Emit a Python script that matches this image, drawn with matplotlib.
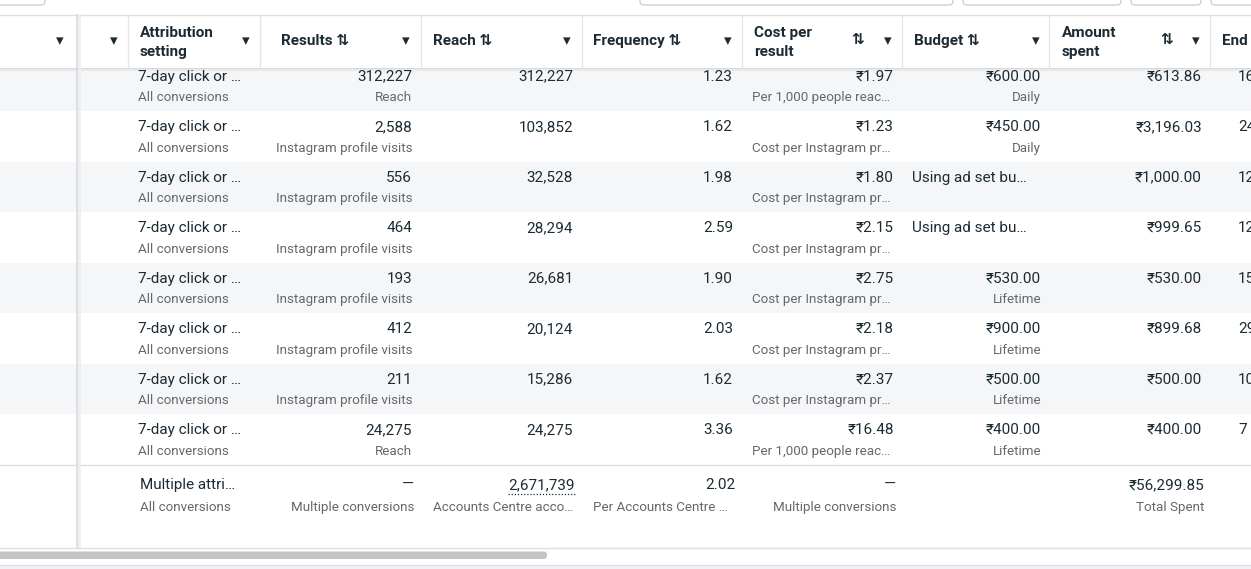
import matplotlib.pyplot as plt
from matplotlib.patches import Rectangle, FancyBboxPatch

plt.rcParams['font.family'] = ['Roboto', 'DejaVu Sans']

# table content
attribution = ["7-day click or …"] * 8
attribution_sub = ["All conversions"] * 8
results = ["312,227", "2,588", "556", "464", "193", "412", "211", "24,275"]
result_types = ["Reach", "Instagram profile visits", "Instagram profile visits",
                "Instagram profile visits", "Instagram profile visits",
                "Instagram profile visits", "Instagram profile visits", "Reach"]
reach = ["312,227", "103,852", "32,528", "28,294", "26,681", "20,124", "15,286", "24,275"]
frequency = ["1.23", "1.62", "1.98", "2.59", "1.90", "2.03", "1.62", "3.36"]
cost_per_result = ["₹1.97", "₹1.23", "₹1.80", "₹2.15", "₹2.75", "₹2.18", "₹2.37", "₹16.48"]
cost_sub = ["Per 1,000 people reac…", "Cost per Instagram pr…", "Cost per Instagram pr…",
            "Cost per Instagram pr…", "Cost per Instagram pr…", "Cost per Instagram pr…",
            "Cost per Instagram pr…", "Per 1,000 people reac…"]
budget = ["₹600.00", "₹450.00", "Using ad set bu…", "Using ad set bu…",
          "₹530.00", "₹900.00", "₹500.00", "₹400.00"]
budget_type = ["Daily", "Daily", "", "", "Lifetime", "Lifetime", "Lifetime", "Lifetime"]
amount_spent = ["₹613.86", "₹3,196.03", "₹1,000.00", "₹999.65",
                "₹530.00", "₹899.68", "₹500.00", "₹400.00"]
ends = ["16", "24", "12", "12", "15", "29", "10", "7"]

total_reach = "2,671,739"
total_frequency = "2.02"
total_spent = "₹56,299.85"

DARK = "#1c2b33"
GREY = "#65676b"
LINE = "#dddfe2"
STRIPE = "#f5f6f7"

fig = plt.figure(figsize=(12.51, 5.69), dpi=100)
ax = fig.add_axes([0, 0, 1, 1])
ax.set_xlim(0, 1251)
ax.set_ylim(569, 0)
ax.axis("off")

MAIN = 11
SUB = 9.6
HB = 11


def t(x, y, s, ha="left", size=MAIN, color=DARK, weight="normal"):
    ax.text(x, y, s, ha=ha, va="center", fontsize=size, color=color, fontweight=weight)


# top toolbar buttons (cut off)
for x0, x1 in [(-10, 45), (640, 953), (963, 1121), (1131, 1201), (1211, 1270)]:
    ax.add_patch(FancyBboxPatch((x0, -20), x1 - x0, 25, boxstyle="round,pad=0,rounding_size=4",
                                fc="white", ec="#ccd0d5", lw=1))

# rows
row_h = 50.5
row_top0 = 60.5
for i in range(len(results)):
    top = row_top0 + i * row_h
    if i % 2 == 0:
        ax.add_patch(Rectangle((0, top), 1251, row_h, fc=STRIPE, ec="none"))
    ym = top + 16
    ys = top + 37
    t(138, ym, attribution[i])
    t(138, ys, attribution_sub[i], size=SUB, color=GREY)
    t(412, ym, results[i], ha="right")
    t(412, ys, result_types[i], ha="right", size=SUB, color=GREY)
    t(573, ym, reach[i], ha="right")
    t(733, ym, frequency[i], ha="right")
    t(894, ym, cost_per_result[i], ha="right")
    t(752, ys, cost_sub[i], size=SUB, color=GREY)
    if budget[i].startswith("₹"):
        t(1041, ym, budget[i], ha="right")
    else:
        t(912, ym, budget[i])
    t(1041, ys, budget_type[i], ha="right", size=SUB, color=GREY)
    t(1202, ym, amount_spent[i], ha="right")
    t(1238, ym, ends[i])

# header
ax.add_patch(Rectangle((0, 15), 1251, 53, fc="white", ec="none"))
ax.plot([0, 1251], [15, 15], color=LINE, lw=1)
ax.plot([0, 1251], [68.5, 68.5], color="#d0d2d6", lw=1.2)
ax.plot([0, 1251], [70, 70], color="#e9eaec", lw=1.5)
for x in [128, 260, 421, 582, 742, 902, 1049, 1210]:
    ax.plot([x, x], [15, 68], color="#e4e6eb", lw=1)

HW = "semibold"
tri = "▾"
t(60, 41, tri, ha="center", size=11)
t(114, 41, tri, ha="center", size=11)
t(140, 33, "Attribution", weight=HW, size=HB)
t(140, 52, "setting", weight=HW, size=HB)
t(246, 41, tri, ha="center", size=11)
t(281, 41, "Results ⇅", weight=HW, size=HB)
t(406, 41, tri, ha="center", size=11)
t(433, 41, "Reach ⇅", weight=HW, size=HB)
t(567, 41, tri, ha="center", size=11)
t(593, 41, "Frequency ⇅", weight=HW, size=HB)
t(728, 41, tri, ha="center", size=11)
t(754, 33, "Cost per", weight=HW, size=HB)
t(754, 52, "result", weight=HW, size=HB)
t(858, 41, "⇅", ha="center", weight=HW, size=HB)
t(888, 41, tri, ha="center", size=11)
t(914, 41, "Budget ⇅", weight=HW, size=HB)
t(1036, 41, tri, ha="center", size=11)
t(1062, 33, "Amount", weight=HW, size=HB)
t(1062, 52, "spent", weight=HW, size=HB)
t(1167, 41, "⇅", ha="center", weight=HW, size=HB)
t(1196, 41, tri, ha="center", size=11)
t(1222, 41, "End", weight=HW, size=HB)

# summary row
summary_top = 465
ax.add_patch(Rectangle((0, summary_top), 1251, 83, fc="white", ec="none"))
ax.plot([0, 1251], [summary_top, summary_top], color=LINE, lw=1)
ym, ys = 485, 507
t(140, ym, "Multiple attri…")
t(140, ys, "All conversions", size=SUB, color=GREY)
t(414, ym, "—", ha="right")
t(414, ys, "Multiple conversions", ha="right", size=SUB, color=GREY)
t(575, ym, total_reach, ha="right")
ax.plot([508, 575], [493.5, 493.5], color=DARK, lw=0.9, ls=(0, (1, 1.5)))
t(433, ys, "Accounts Centre acco…", size=SUB, color=GREY)
t(736, ym, total_frequency, ha="right")
t(593, ys, "Per Accounts Centre …", size=SUB, color=GREY)
t(896, ym, "—", ha="right")
t(896, ys, "Multiple conversions", ha="right", size=SUB, color=GREY)
t(1204, ym, total_spent, ha="right")
t(1204, ys, "Total Spent", ha="right", size=SUB, color=GREY)

# frozen-column divider with shadow
ax.plot([77, 77], [15, 548], color="#d8dadd", lw=1.2)
ax.plot([79, 79], [15, 548], color="#eeeff1", lw=2)

# bottom: scrollbar and footer
ax.plot([0, 1251], [548, 548], color=LINE, lw=1)
ax.add_patch(FancyBboxPatch((-10, 551.5), 557, 7.5, boxstyle="round,pad=0,rounding_size=3.5",
                            fc="#c4c4c4", ec="none"))
ax.add_patch(Rectangle((0, 565), 1251, 10, fc="#f0f2f5", ec="none"))
ax.plot([0, 1251], [565, 565], color=LINE, lw=1)

fig.savefig("out.png", dpi=100)
